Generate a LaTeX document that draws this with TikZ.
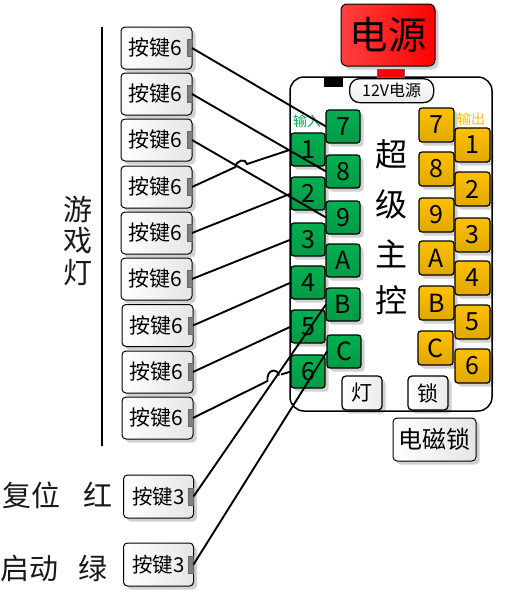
\documentclass[tikz,border=0pt]{standalone}
\usepackage{fontspec}
\setmainfont{Noto Sans CJK SC}
\usetikzlibrary{shadows}
\definecolor{gtop}{HTML}{00B050}
\definecolor{gbot}{HTML}{009A46}
\definecolor{yellowtop}{HTML}{FFC000}
\definecolor{yellowbot}{HTML}{E0A800}
\definecolor{powerl}{HTML}{FF4040}
\tikzset{
  cardshadow/.style={drop shadow={shadow xshift=3.5pt,shadow yshift=-3.5pt,opacity=.18,fill=black}},
  base/.style={draw=black,line width=1.3pt,inner sep=0pt,outer sep=0pt,text=black,cardshadow,anchor=north west},
  btn/.style={base,line width=1pt,rounded corners=4pt,minimum width=71pt,minimum height=42pt,left color=white,right color=black!10,
     font=\fontsize{21}{21}\selectfont},
  port/.style={draw=black!60,fill=black!50,line width=.6pt,minimum width=5pt,minimum height=17pt,inner sep=0pt,outer sep=0pt},
  gkey/.style={base,rounded corners=3pt,minimum width=34pt,minimum height=33pt,top color=gtop,bottom color=gbot,
     font=\fontsize{25}{25}\selectfont},
  ykey/.style={base,rounded corners=3pt,minimum width=35pt,minimum height=34pt,top color=yellowtop,bottom color=yellowbot,
     font=\fontsize{25}{25}\selectfont},
  wire/.style={draw=black,line width=1.9pt},
  minibtn/.style={base,rounded corners=4pt,minimum width=40pt,minimum height=34pt,left color=white,right color=black!8,
     font=\fontsize{21}{21}\selectfont},
  bigtxt/.style={font=\fontsize{29}{29}\selectfont,text=black!90,inner sep=0pt},
}
\begin{document}
\begin{tikzpicture}[x=1pt,y=-1pt]
\useasboundingbox (0,0) rectangle (505,598);
% main board
\draw[draw=black,line width=1.5pt,fill=white,rounded corners=14pt] (290,77) rectangle (492,411);
\node[anchor=north west,fill=black,minimum width=19pt,minimum height=10pt,inner sep=0pt] (blk) at (324,77) {};
\node[anchor=north west,fill=red,draw=black!60,line width=.4pt,minimum width=27pt,minimum height=8pt,inner sep=0pt] (redtab) at (377,69) {};
\node[base,line width=1pt,rounded corners=6pt,minimum width=94pt,minimum height=62pt,left color=powerl,right color=red,
   font=\fontsize{38.5}{38.5}\selectfont] (power) at (341,4) {电源};
\node[anchor=north west,draw=black,line width=1.3pt,fill=white,rounded corners=10pt,minimum width=84pt,minimum height=24pt,inner sep=0pt,
   top color=white,bottom color=black!8,font=\fontsize{16}{16}\selectfont] (v12) at (349,78) {12V电源};
% labels on board
\node[text=gtop,font=\fontsize{14}{14}\selectfont,inner sep=0pt] (inlab) at (307,121) {输入};
\node[text=yellowtop,font=\fontsize{14}{14}\selectfont,inner sep=0pt] (outlab) at (471,119) {输出};
\node[font=\fontsize{32}{32}\selectfont,inner sep=0pt] (t1) at (391,154) {超};
\node[font=\fontsize{32}{32}\selectfont,inner sep=0pt] (t2) at (391,204) {级};
\node[font=\fontsize{32}{32}\selectfont,inner sep=0pt] (t3) at (391,254) {主};
\node[font=\fontsize{32}{32}\selectfont,inner sep=0pt] (t4) at (391,300) {控};
% yellow
\foreach \n/\lab/\x/\y in {y7/7/419/108,y8/8/419/152,y9/9/419/198,yA/A/419/241,yB/B/419/286,yC/C/418/331,
  o1/1/455/128,o2/2/455/172,o3/3/455/218,o4/4/455/261,o5/5/455/305,o6/6/455/349}
  \node[ykey] (\n) at (\x,\y) {\lab};
% mini buttons
\node[minibtn] (lamp) at (342,376) {灯};
\node[minibtn] (lock) at (408,376) {锁};
\node[btn,minimum width=83pt,minimum height=43pt,font=\fontsize{24}{24}\selectfont] (elock) at (393,418) {电磁锁};
% buttons
\foreach \n/\x/\y in {b1/121/27,b2/121/73,b3/121/119,b4/121/166,b5/121/212,b6/121/258,b7/122/304.5,b8/122/351,b9/122/397}{
  \node[btn] (\n) at (\x,\y) {\hspace{-2pt}按键6\hspace{5pt}};
  \node[port,anchor=east] (p\n) at (\n.east) {};
}
\node[btn,minimum width=70pt,minimum height=43pt,font=\fontsize{20.5}{20.5}\selectfont] (r1) at (123.5,475) {按键3\hspace{4pt}};
\node[port,anchor=east] (pr1) at (r1.east) {};
\node[btn,minimum width=70pt,minimum height=43pt,font=\fontsize{20.5}{20.5}\selectfont] (r2) at (123.5,543) {按键3\hspace{4pt}};
\node[port,anchor=east] (pr2) at (r2.east) {};
% green keys
\foreach \n/\lab/\x/\y in {g1/1/291/133,g2/2/291/177,g3/3/291/223,g4/4/291/266,g5/5/291/310,g6/6/291/355}
  \node[gkey] (\n) at (\x,\y) {\lab};
\foreach \n/\lab/\x/\y in {g7/7/326/110,g8/8/326/155,g9/9/326/201,gA/A/326/244,gB/B/326/288,gC/C/327/335}
  \node[gkey] (\n) at (\x,\y) {\lab};
% side texts
\draw[line width=1.7pt] (102,27) coordinate (va) -- (102,446) coordinate (vb);
\node[bigtxt] (s1) at (78,209) {游};
\node[bigtxt] (s2) at (78,241) {戏};
\node[bigtxt] (s3) at (78,273) {灯};
\node[bigtxt,anchor=west] (re) at (2,495) {复位\hspace{0.8em}红};
\node[bigtxt,anchor=west] (st) at (0,568) {启动\hspace{0.7em}绿};
% wires
\draw[wire] (pb1.east) -- (g7.west);
\draw[wire] (pb2.east) -- (g8.west);
\draw[wire] (pb3.east) -- (g9.west);
\coordinate (j1a) at (235.5,167);
\coordinate (j1b) at (247,164);
\draw[wire] (pb4.east) -- (j1a) .. controls (236,160) and (246,158) .. (j1b) -- (g1.west);
\draw[wire] (pb5.east) -- (g2.west);
\draw[wire] (pb6.east) -- (g3.west);
\draw[wire] (pb7.east) -- (g4.west);
\draw[wire] (pb8.east) -- (g5.west);
\coordinate (j2a) at (267.5,381);
\coordinate (j2b) at (279,375.5);
\draw[wire] (pb9.east) -- (j2a) .. controls (266,370) and (277,367) .. (j2b);
\draw[wire] (j2b) ++(2,-1) coordinate (j2c) -- (g6.west);
\draw[wire] (pr1.east) -- (gB.west);
\draw[wire] (pr2.east) -- (gC.west);
\end{tikzpicture}
\end{document}
